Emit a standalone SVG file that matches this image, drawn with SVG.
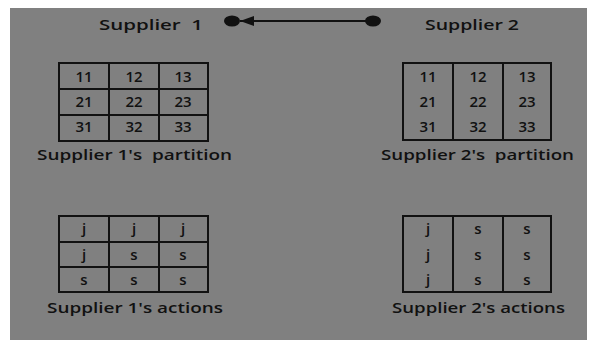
<svg xmlns="http://www.w3.org/2000/svg" width="590" height="341" viewBox="0 0 590 341">
<defs>
<style>
.t{font-family:"Open Sans","Liberation Sans",sans-serif;font-weight:600;fill:#111;}
.lbl{font-size:15px;}
.c{font-size:15px;text-anchor:middle;}
.g{fill:none;stroke:#111;stroke-width:2;}
</style>
<marker id="ah" viewBox="0 0 14 10" refX="14" refY="5" markerWidth="14" markerHeight="10" markerUnits="userSpaceOnUse" orient="auto">
<path d="M0,0 L14,5 L0,10 Z" fill="#111"/>
</marker>
</defs>
<rect x="10" y="8" width="577" height="332" fill="#808080"/>
<g id="supplier1"><text class="t lbl" x="99" y="30" textLength="104" lengthAdjust="spacingAndGlyphs" xml:space="preserve">Supplier  1</text></g>
<g id="supplier2"><text class="t lbl" x="425" y="30" textLength="94" lengthAdjust="spacingAndGlyphs">Supplier 2</text></g>
<g id="connectors">
<line x1="373" y1="21" x2="240" y2="21" stroke="#111" stroke-width="2" marker-end="url(#ah)"/>
<ellipse cx="232" cy="21" rx="8" ry="5.5" fill="#111"/>
<ellipse cx="373" cy="21" rx="8" ry="5.5" fill="#111"/>
</g>
<g id="partition1">
<rect class="g" x="59" y="63" width="149" height="78"/>
<line class="g" x1="109" y1="63" x2="109" y2="141"/>
<line class="g" x1="159" y1="63" x2="159" y2="141"/>
<line class="g" x1="59" y1="89" x2="208" y2="89"/>
<line class="g" x1="59" y1="115" x2="208" y2="115"/>
<text class="t c" x="84" y="82">11</text><text class="t c" x="134" y="82">12</text><text class="t c" x="183" y="82">13</text>
<text class="t c" x="84" y="107">21</text><text class="t c" x="134" y="107">22</text><text class="t c" x="183" y="107">23</text>
<text class="t c" x="84" y="132">31</text><text class="t c" x="134" y="132">32</text><text class="t c" x="183" y="132">33</text>
<text class="t lbl" x="37" y="160" textLength="195" lengthAdjust="spacingAndGlyphs" xml:space="preserve">Supplier 1's  partition</text>
</g>
<g id="partition2">
<rect class="g" x="403" y="63" width="148" height="77"/>
<line class="g" x1="453" y1="63" x2="453" y2="140"/>
<line class="g" x1="503" y1="63" x2="503" y2="140"/>
<text class="t c" x="428" y="82">11</text><text class="t c" x="478" y="82">12</text><text class="t c" x="527" y="82">13</text>
<text class="t c" x="428" y="107">21</text><text class="t c" x="478" y="107">22</text><text class="t c" x="527" y="107">23</text>
<text class="t c" x="428" y="132">31</text><text class="t c" x="478" y="132">32</text><text class="t c" x="527" y="132">33</text>
<text class="t lbl" x="381" y="160" textLength="193" lengthAdjust="spacingAndGlyphs" xml:space="preserve">Supplier 2's  partition</text>
</g>
<g id="actions1">
<rect class="g" x="59" y="216" width="149" height="76"/>
<line class="g" x1="109" y1="216" x2="109" y2="292"/>
<line class="g" x1="159" y1="216" x2="159" y2="292"/>
<line class="g" x1="59" y1="242" x2="208" y2="242"/>
<line class="g" x1="59" y1="267" x2="208" y2="267"/>
<text class="t c" x="84" y="234">j</text><text class="t c" x="134" y="234">j</text><text class="t c" x="183" y="234">j</text>
<text class="t c" x="84" y="260">j</text><text class="t c" x="134" y="260">s</text><text class="t c" x="183" y="260">s</text>
<text class="t c" x="84" y="285">s</text><text class="t c" x="134" y="285">s</text><text class="t c" x="183" y="285">s</text>
<text class="t lbl" x="47" y="313" textLength="176" lengthAdjust="spacingAndGlyphs">Supplier 1's actions</text>
</g>
<g id="actions2">
<rect class="g" x="403" y="216" width="148" height="76"/>
<line class="g" x1="453" y1="216" x2="453" y2="292"/>
<line class="g" x1="503" y1="216" x2="503" y2="292"/>
<text class="t c" x="428" y="234">j</text><text class="t c" x="478" y="234">s</text><text class="t c" x="527" y="234">s</text>
<text class="t c" x="428" y="260">j</text><text class="t c" x="478" y="260">s</text><text class="t c" x="527" y="260">s</text>
<text class="t c" x="428" y="285">j</text><text class="t c" x="478" y="285">s</text><text class="t c" x="527" y="285">s</text>
<text class="t lbl" x="392" y="313" textLength="173" lengthAdjust="spacingAndGlyphs">Supplier 2's actions</text>
</g>
</svg>
